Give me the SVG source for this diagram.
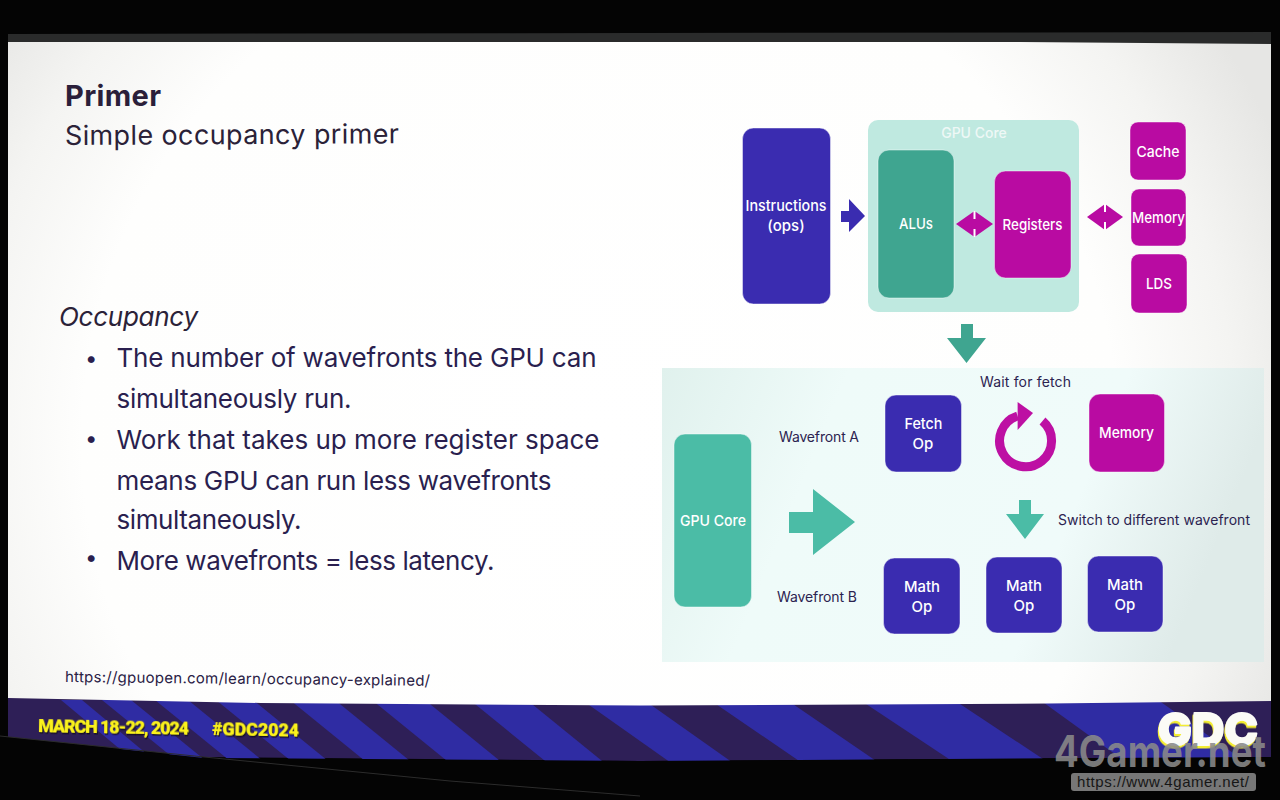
<svg xmlns="http://www.w3.org/2000/svg" width="1280" height="800" viewBox="0 0 1280 800">
<style>
text{font-family:"Inter","Noto Sans","Liberation Sans",sans-serif}
.t{fill:#2a1f4f;font-size:26px}
.b{fill:#2a1f4f;font-size:22px}
.l{fill:#fff;font-size:15px;font-weight:500;text-anchor:middle}
.d{fill:#2c2350;font-size:14px}
.i{fill:#3a2cb0}.m{fill:#b90ba2}.g{fill:#3fa590}.h{fill:#4bbca6}
.y{fill:#fbf21a;font-weight:900;font-size:18px;filter:url(#sh);font-family:"Roboto","Liberation Sans",sans-serif}
.n{stroke:#fff;stroke-opacity:.45;stroke-width:1}
.tick{stroke:#fff;stroke-width:2}
</style>
<defs>
<radialGradient id="scr" gradientUnits="userSpaceOnUse" cx="600" cy="440" r="740"><stop offset="0" stop-color="#fff"/><stop offset=".7" stop-color="#fefefd"/><stop offset=".86" stop-color="#f4f4f2"/><stop offset="1" stop-color="#e6e6e4"/></radialGradient>
<linearGradient id="pan" x1="0" y1="0" x2="1" y2="0.2"><stop offset="0" stop-color="#e0f1ed"/><stop offset=".3" stop-color="#effbf9"/><stop offset=".75" stop-color="#f0fbfa"/><stop offset="1" stop-color="#dfebe9"/></linearGradient>
<filter id="sh" x="-10%" y="-30%" width="120%" height="170%"><feDropShadow dx="1" dy="1.5" stdDeviation=".6" flood-color="#151020"/></filter>
<filter id="gl" x="-10%" y="-20%" width="120%" height="150%"><feDropShadow dx="-1" dy="2.5" stdDeviation=".5" flood-color="#f4ee30"/></filter>
</defs>
<rect width="1280" height="800" fill="#040404"/>
<polygon points="8,34 1271,32 1271,44 8,44" fill="#2a2b2b"/>
<g id="banner">
<polygon points="8,690 1271,690 1271,757 640,761 204,757 8,737" fill="#2e1f57"/>
<g fill="#2f2ca3">
<polygon points="61,700 82,700 160,765 139,765"/>
<polygon points="102,700 131,700 211,765 182,765"/>
<polygon points="155,700 188,700 268,765 235,765"/>
<polygon points="216,700 253,700 333,765 296,765"/>
<polygon points="290,700 335,700 415,765 370,765"/>
<polygon points="372,700 425,700 505,765 452,765"/>
<polygon points="470,700 527,700 607,765 550,765"/>
<polygon points="582,700 644,700 736,765 674,765"/>
<polygon points="710,700 787,700 882,765 805,765"/>
<polygon points="860,700 954,700 1052,765 958,765"/>
<polygon points="1040,700 1158,700 1250,765 1130,765"/>
</g>
</g>
<polygon points="8,42 640,42 1020,42 1271,44 1271,701 1048,703.500 640,705.500 261,703 8,698" fill="url(#scr)"/>
<polygon points="0,736 8,737 204,758 640,761 1271,757 1271,0 1280,0 1280,800 0,800" fill="#040404"/>
<polyline points="0,736 204,757 450,781 640,796" fill="none" stroke="#2c2c2c" stroke-width="1"/>
<g id="slide-text">
<text x="65" y="106" font-size="29" font-weight="700" fill="#2b1f3a" textLength="96" lengthAdjust="spacing">Primer</text>
<text x="65" y="145" font-size="27" fill="#2b2238" textLength="334" lengthAdjust="spacing" transform="rotate(-.3 65 145)">Simple occupancy primer</text>
<text x="59" y="326" font-size="26" font-style="italic" fill="#2b2238" textLength="139" lengthAdjust="spacing">Occupancy</text>
<text class="b" x="85" y="366">•</text>
<text class="t" x="116.500" y="367" textLength="480" lengthAdjust="spacing">The number of wavefronts the GPU can</text>
<text class="t" x="116.500" y="408" textLength="235" lengthAdjust="spacing">simultaneously run.</text>
<text class="b" x="85" y="446">•</text>
<text class="t" x="116.500" y="449" textLength="483" lengthAdjust="spacing">Work that takes up more register space</text>
<text class="t" x="116.500" y="490" textLength="435" lengthAdjust="spacing">means GPU can run less wavefronts</text>
<text class="t" x="116.500" y="529" textLength="185" lengthAdjust="spacing">simultaneously.</text>
<text class="b" x="85" y="565">•</text>
<text class="t" x="116.500" y="570" textLength="378" lengthAdjust="spacing">More wavefronts = less latency.</text>
<text x="65" y="682" font-size="15" fill="#2a2145" textLength="365" lengthAdjust="spacing" transform="rotate(.6 65 682)">https://gpuopen.com/learn/occupancy-explained/</text>
<text class="y" x="38" y="732" textLength="151" lengthAdjust="spacing" transform="rotate(1 38 732)">MARCH 18-22, 2024</text>
<text class="y" x="212" y="735" textLength="87" lengthAdjust="spacing" transform="rotate(1 212 735)">#GDC2024</text>
</g>
<rect x="662" y="368" width="602" height="294" fill="url(#pan)"/>
<g id="gpu-core-panel"><rect x="868" y="120" width="211" height="192" rx="10" fill="#bfe9e0"/><text x="974" y="138" text-anchor="middle" font-size="14" font-weight="500" fill="#eef8f6">GPU Core</text></g>
<g id="instructions"><rect class="i n" x="742.500" y="128" width="88" height="176" rx="11"/><text class="l" x="786" y="211" textLength="81" lengthAdjust="spacingAndGlyphs">Instructions</text><text class="l" x="786" y="231">(ops)</text></g>
<g id="alus"><rect class="g n" x="878" y="150" width="76" height="148" rx="11"/><text class="l" x="916" y="229" textLength="34" lengthAdjust="spacingAndGlyphs">ALUs</text></g>
<g id="registers"><rect class="m n" x="994.500" y="171" width="76.500" height="107" rx="11"/><text class="l" x="1032.500" y="230" textLength="60" lengthAdjust="spacingAndGlyphs">Registers</text></g>
<g id="cache"><rect class="m n" x="1130" y="122" width="56" height="58" rx="8"/><text class="l" x="1158" y="157" textLength="43" lengthAdjust="spacingAndGlyphs">Cache</text></g>
<g id="memory"><rect class="m n" x="1131" y="189" width="55" height="57" rx="8"/><text class="l" x="1158.500" y="223" textLength="53" lengthAdjust="spacingAndGlyphs">Memory</text></g>
<g id="lds"><rect class="m n" x="1131" y="254" width="56" height="59" rx="8"/><text class="l" x="1159" y="289" textLength="26" lengthAdjust="spacingAndGlyphs">LDS</text></g>
<g id="gpu-core-2"><rect class="h n" x="674" y="434" width="77.500" height="173" rx="11"/><text class="l" x="713" y="526" textLength="66" lengthAdjust="spacingAndGlyphs">GPU Core</text></g>
<g id="fetch-op"><rect class="i n" x="885" y="395" width="76.500" height="77" rx="11"/><text class="l" x="923.500" y="429" textLength="38" lengthAdjust="spacingAndGlyphs">Fetch</text><text class="l" x="923" y="449">Op</text></g>
<g id="memory-2"><rect class="m n" x="1089" y="394" width="75.500" height="78" rx="11"/><text class="l" x="1126.500" y="438" textLength="55" lengthAdjust="spacingAndGlyphs">Memory</text></g>
<g id="math-1"><rect class="i n" x="883.500" y="558" width="76.500" height="76" rx="11"/><text class="l" x="922" y="592" textLength="36" lengthAdjust="spacingAndGlyphs">Math</text><text class="l" x="922" y="612">Op</text></g>
<g id="math-2"><rect class="i n" x="986" y="557" width="76" height="76" rx="11"/><text class="l" x="1024" y="591" textLength="36" lengthAdjust="spacingAndGlyphs">Math</text><text class="l" x="1024" y="611">Op</text></g>
<g id="math-3"><rect class="i n" x="1087.500" y="556" width="75.500" height="76" rx="11"/><text class="l" x="1125" y="590" textLength="36" lengthAdjust="spacingAndGlyphs">Math</text><text class="l" x="1125" y="610">Op</text></g>
<g id="labels">
<text class="d" x="779" y="442" textLength="80" lengthAdjust="spacing">Wavefront A</text>
<text class="d" x="777" y="602" textLength="80" lengthAdjust="spacing">Wavefront B</text>
<text class="d" x="980" y="387" textLength="91" lengthAdjust="spacing">Wait for fetch</text>
<text class="d" x="1058" y="525" textLength="192" lengthAdjust="spacing">Switch to different wavefront</text>
</g>
<g id="connectors">
<polygon class="i" points="841,211 849,211 849,199 865,216 849,232 849,222 841,222"/>
<polygon class="m" points="956,224 974.500,211 993,224 974.500,237"/>
<path class="tick" d="M974.500 211v8M974.500 229v8"/>
<polygon class="m" points="1087,217 1105,204 1123,217 1105,230"/>
<path class="tick" d="M1105 204v8M1105 222v8"/>
<polygon class="g" points="961,324 973,324 973,338 986,338 966.500,363 947,338 961,338"/>
<polygon class="h" points="789,512 813,512 813,489 855,522 813,555 813,533 789,533"/>
<polygon class="h" points="1019,500 1031,500 1031,514 1044,514 1025,539 1006,514 1019,514"/>
<path d="M1042.500 421A26 26 0 1 1 1017.600 416" fill="none" stroke="#bd10a3" stroke-width="9"/>
<polygon points="1017.600,402 1033,413 1017.600,430" fill="#bd10a3"/>
</g>
<g id="watermark">
<text x="1208" y="745" text-anchor="middle" font-size="44" font-weight="800" fill="#fbfbf6" stroke="#fbfbf6" stroke-width="2" stroke-linejoin="round" textLength="100" lengthAdjust="spacingAndGlyphs" filter="url(#gl)">GDC</text>
<text x="1054" y="767" font-size="44" font-weight="700" fill="#8a8a8a" fill-opacity=".88" textLength="212" lengthAdjust="spacingAndGlyphs">4Gamer.net</text>
<rect x="1071" y="773" width="185" height="18" rx="3" fill="#777"/>
<text x="1077" y="787" font-size="15" fill="#161616" style="font-family:'Liberation Sans',sans-serif" textLength="172" lengthAdjust="spacing">https://www.4gamer.net/</text>
</g>
</svg>
